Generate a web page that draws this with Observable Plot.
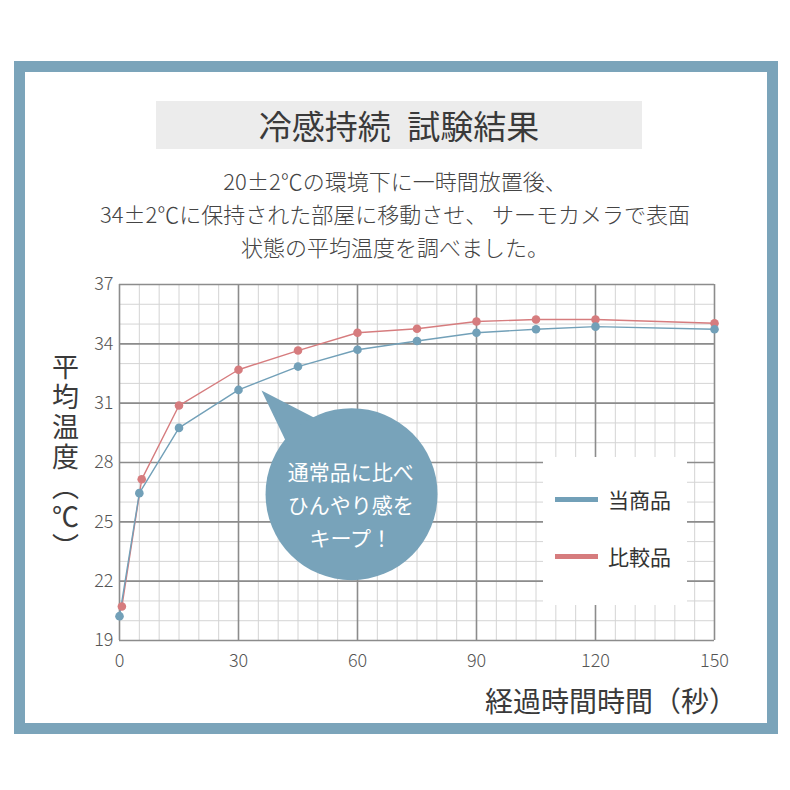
<!DOCTYPE html>
<html><head><meta charset="utf-8">
<script src="https://cdn.jsdelivr.net/npm/d3@7"></script>
<script src="https://cdn.jsdelivr.net/npm/@observablehq/plot@0.6"></script>
<style>
body{margin:0;background:#fff;font-family:"Noto Sans CJK JP","Noto Sans",sans-serif;}
#page{position:relative;width:790px;height:790px;overflow:hidden;background:#fff;}
#chart{position:absolute;left:0;top:0;}
.ov{position:absolute;}
#frame{left:14px;top:61px;width:742px;height:651px;border:11px solid #7ba4ba;}
#title{left:156px;top:101px;width:486px;height:48px;background:#ececec;color:#3a3a3a;font-size:33px;line-height:48px;text-align:center;}
#sub{left:0;top:164px;width:790px;text-align:center;font-size:22px;line-height:33px;color:#444;font-weight:300;}
#ylab{left:46px;top:353px;writing-mode:vertical-rl;font-size:27px;letter-spacing:3px;color:#3a3a3a;}
#xlab{left:0;top:682px;width:737px;text-align:right;font-size:28px;line-height:36px;color:#3a3a3a;}
#legend{left:543px;top:457px;width:144px;height:148px;background:#fff;}
.li{position:absolute;left:12px;height:30px;display:flex;align-items:center;font-size:21px;color:#333;}
.sw{width:43px;height:5px;margin-right:10px;}
</style>
</head><body>
<div id="page">
  <div id="chart"></div>
</div>
<script>
// ---- data ----
const xTicks = [0, 30, 60, 90, 120, 150];
const yTicks = [19, 22, 25, 28, 31, 34, 37];
const seriesNames = ["当商品", "比較品"];
const seriesColors = ["#72a0b8", "#d67c7e"];
const timeA = [0, 5, 15, 30, 45, 60, 75, 90, 105, 120, 150];
const tempA = [20.23, 26.45, 29.75, 31.67, 32.85, 33.7, 34.14, 34.56, 34.74, 34.87, 34.74];
const timeB = [0.6, 5.6, 15, 30, 45, 60, 75, 90, 105, 120, 150];
const tempB = [20.72, 27.15, 30.88, 32.69, 33.66, 34.56, 34.76, 35.13, 35.23, 35.23, 35.04];
const titleText = "冷感持続\u2002試験結果";
const subLines = ["20±2℃の環境下に一時間放置後、", "34±2℃に保持された部屋に移動させ、 サーモカメラで表面", "状態の平均温度を調べました。"];
const yLabel = "平均温度（℃）";
const xLabel = "経過時間時間（秒）";
const bubbleText = "通常品に比べ\nひんやり感を\nキープ！";
const bubbleCenter = [{x: 58.5, y: 26.4}];
const bubbleTail = [{x: 35.8, y: 31.64}, {x: 43.1, y: 28.6}, {x: 50.7, y: 30.1}];
const bubbleColor = "#78a3ba";

const A = timeA.map((t, i) => ({t, v: tempA[i]}));
const B = timeB.map((t, i) => ({t, v: tempB[i]}));

const plot = Plot.plot({
  width: 790, height: 790,
  marginLeft: 119, marginRight: 76, marginTop: 284, marginBottom: 150,
  x: {domain: [0, 150]},
  y: {domain: [19, 37]},
  style: {fontFamily: '"Noto Sans CJK JP", sans-serif', fontSize: "18px", fontWeight: 300, color: "#555", background: "transparent"},
  marks: [
    Plot.ruleX(d3.range(0, 151, 5), {stroke: "#d4d4d4", strokeWidth: 1}),
    Plot.ruleY(d3.range(19, 38, 1), {stroke: "#d4d4d4", strokeWidth: 1}),
    Plot.ruleX(xTicks, {stroke: "#8c8c8c", strokeWidth: 1.6}),
    Plot.ruleY(yTicks, {stroke: "#8c8c8c", strokeWidth: 1.6}),
    Plot.line(B, {x: "t", y: "v", stroke: seriesColors[1], strokeWidth: 1.4}),
    Plot.line(A, {x: "t", y: "v", stroke: seriesColors[0], strokeWidth: 1.4}),
    Plot.dot(B, {x: "t", y: "v", r: 4.3, fill: seriesColors[1]}),
    Plot.dot(A, {x: "t", y: "v", r: 4.3, fill: seriesColors[0]}),
    Plot.line(bubbleTail, {x: "x", y: "y", fill: bubbleColor, stroke: "none"}),
    Plot.dot(bubbleCenter, {x: "x", y: "y", r: 86, fill: bubbleColor}),
    Plot.text(bubbleCenter, {x: d => d.x - 0.2, y: d => d.y - 0.42, text: () => bubbleText, fill: "#fff", fontSize: 21, fontWeight: 400, lineHeight: 1.57}),
    Plot.axisX({ticks: xTicks, tickSize: 0, tickPadding: 14, label: null, fill: "#555"}),
    Plot.axisY({ticks: yTicks, tickSize: 0, tickPadding: 6, label: null, fill: "#555"})
  ]
});
document.getElementById("chart").appendChild(plot);

const page = document.getElementById("page");
function ov(id, html) { const d = document.createElement("div"); d.className = "ov"; d.id = id; d.innerHTML = html; page.appendChild(d); return d; }
ov("frame", "");
ov("title", titleText);
ov("sub", subLines.join("<br>"));
ov("ylab", yLabel);
ov("xlab", xLabel);
const leg = ov("legend", "");
seriesNames.forEach((n, i) => {
  const it = document.createElement("div");
  it.className = "li";
  it.style.top = (27 + i * 57) + "px";
  it.innerHTML = `<span class="sw" style="background:${seriesColors[i]}"></span><span>${n}</span>`;
  leg.appendChild(it);
});
</script>
</body></html>
